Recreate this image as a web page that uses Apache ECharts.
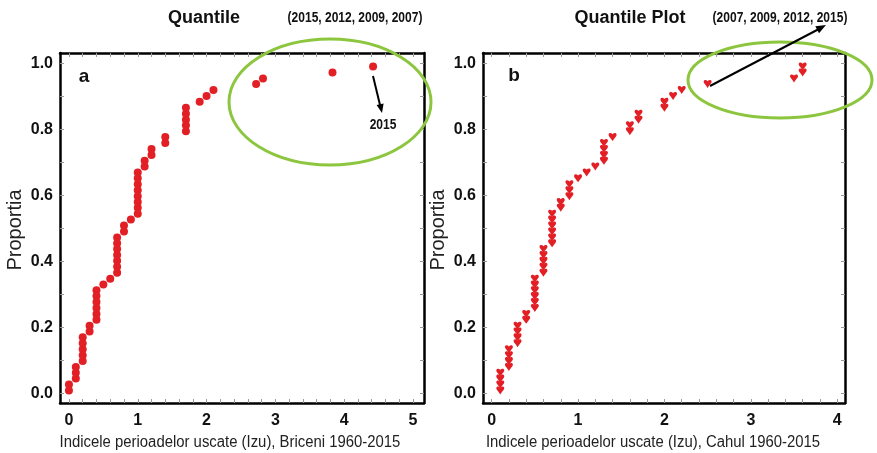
<!DOCTYPE html>
<html>
<head>
<meta charset="utf-8">
<script src="https://cdn.jsdelivr.net/npm/echarts@6/dist/echarts.min.js"></script>
<style>
html,body{margin:0;padding:0;background:#fff;}
#c{width:877px;height:453px;}
</style>
</head>
<body>
<div id="c"></div>
<script>
// ---------- DATA ----------
// Sorted index values (Izu), Briceni 1960-2015 (56 years)
const briceniValues = [
  0.0, 0.0,
  0.1, 0.1, 0.1,
  0.2, 0.2, 0.2, 0.2, 0.2,
  0.3, 0.3,
  0.4, 0.4, 0.4, 0.4, 0.4, 0.4,
  0.5, 0.6,
  0.7, 0.7, 0.7, 0.7, 0.7, 0.7, 0.7,
  0.8, 0.8, 0.9,
  1.0, 1.0, 1.0, 1.0, 1.0, 1.0, 1.0, 1.0,
  1.1, 1.1, 1.2, 1.2, 1.4, 1.4,
  1.7, 1.7, 1.7, 1.7, 1.7,
  1.9, 2.0, 2.1, 2.72, 2.82, 3.83, 4.42
];
// Sorted index values (Izu), Cahul 1960-2015 (56 years)
const cahulValues = [
  0.1, 0.1, 0.1, 0.1,
  0.2, 0.2, 0.2, 0.2,
  0.3, 0.3, 0.3, 0.3,
  0.4, 0.4,
  0.5, 0.5, 0.5, 0.5, 0.5, 0.5,
  0.6, 0.6, 0.6, 0.6, 0.6,
  0.7, 0.7, 0.7, 0.7, 0.7, 0.7,
  0.8, 0.8,
  0.9, 0.9, 0.9,
  1.0, 1.1, 1.2,
  1.3, 1.3, 1.3, 1.3,
  1.4, 1.6, 1.6, 1.7, 1.7,
  2.0, 2.0, 2.1, 2.2, 2.5, 3.5, 3.6, 3.6
];
// Proportion (quantile position) of each sorted value
const proportions = [
  0.009, 0.027, 0.045, 0.063, 0.080, 0.098, 0.116, 0.134, 0.152, 0.170,
  0.188, 0.205, 0.223, 0.241, 0.259, 0.277, 0.295, 0.313, 0.330, 0.348,
  0.366, 0.384, 0.402, 0.420, 0.438, 0.455, 0.473, 0.491, 0.509, 0.527,
  0.545, 0.563, 0.580, 0.598, 0.616, 0.634, 0.652, 0.670, 0.688, 0.705,
  0.723, 0.741, 0.759, 0.777, 0.795, 0.813, 0.830, 0.848, 0.866, 0.884,
  0.902, 0.920, 0.938, 0.955, 0.973, 0.991
];
const yTickLabels = [0, 0.2, 0.4, 0.6, 0.8, 1.0];
const xTickLabelsA = [0, 1, 2, 3, 4, 5];
const xTickLabelsB = [0, 1, 2, 3, 4];
const yMinorTicks = [0, 0.1, 0.2, 0.3, 0.4, 0.5, 0.6, 0.7, 0.8, 0.9, 1.0];
const xMinorTicksA = [0,0.2,0.4,0.6,0.8,1,1.2,1.4,1.6,1.8,2,2.2,2.4,2.6,2.8,3,3.2,3.4,3.6,3.8,4,4.2,4.4,4.6,4.8,5];
const xMinorTicksB = [0,0.2,0.4,0.6,0.8,1,1.2,1.4,1.6,1.8,2,2.2,2.4,2.6,2.8,3,3.2,3.4,3.6,3.8,4];

// ---------- CHART ----------
const FONT = 'Liberation Sans, Arial, sans-serif';
const RED = '#e31f26';
const GREEN = '#8cc63f';
const chart = echarts.init(document.getElementById('c'), null, {renderer: 'canvas'});

function xAx(grid, min, max, labels, ticks, pos) {
  return {
    type: 'value', gridIndex: grid, min: min, max: max, position: pos,
    axisLine: {show: true, onZero: false, lineStyle: {color: '#000', width: 2.5}},
    axisTick: {show: true, inside: true, length: 4, customValues: ticks, lineStyle: {color: '#999', width: 1}},
    axisLabel: pos === 'bottom' ? {show: true, customValues: labels, margin: 10, color: '#111',
      fontFamily: FONT, fontWeight: 'bold', fontSize: 16} : {show: false},
    splitLine: {show: false}
  };
}
function yAx(grid, pos) {
  return {
    type: 'value', gridIndex: grid, min: -0.029, max: 1.032, position: pos,
    axisLine: {show: true, onZero: false, lineStyle: {color: '#000', width: 2.5}},
    axisTick: {show: true, inside: true, length: 4, customValues: yMinorTicks, lineStyle: {color: '#999', width: 1}},
    axisLabel: pos === 'left' ? {show: true, customValues: yTickLabels, margin: 7, color: '#111',
      fontFamily: FONT, fontWeight: 'bold', fontSize: 16,
      formatter: v => v.toFixed(1)} : {show: false},
    splitLine: {show: false}
  };
}

const heart = 'path://M0,2.2 C0,-0.7 3.4,-0.7 5,1.4 C6.6,-0.7 10,-0.7 10,2.2 C10,4 7,6.5 5,10 C3,6.5 0,4 0,2.2 Z';

const option = {
  backgroundColor: '#fff',
  animation: false,
  grid: [
    {left: 60, top: 53, width: 364, height: 350},
    {left: 483, top: 53, width: 362, height: 350}
  ],
  xAxis: [
    xAx(0, -0.13, 5.16, xTickLabelsA, xMinorTicksA, 'bottom'),
    xAx(0, -0.13, 5.16, xTickLabelsA, xMinorTicksA, 'top'),
    xAx(1, -0.1, 4.09, xTickLabelsB, xMinorTicksB, 'bottom'),
    xAx(1, -0.1, 4.09, xTickLabelsB, xMinorTicksB, 'top')
  ],
  yAxis: [
    yAx(0, 'left'), yAx(0, 'right'),
    yAx(1, 'left'), yAx(1, 'right')
  ],
  series: [
    {
      type: 'scatter', xAxisIndex: 0, yAxisIndex: 0,
      symbol: 'circle', symbolSize: 8,
      itemStyle: {color: RED, opacity: 1},
      data: briceniValues.map((v, i) => [v, proportions[i]])
    },
    {
      type: 'scatter', xAxisIndex: 2, yAxisIndex: 2,
      symbol: heart, symbolSize: [8, 8],
      itemStyle: {color: RED, opacity: 1},
      data: cahulValues.map((v, i) => [v, proportions[i]])
    }
  ],
  graphic: [
    // titles
    {type: 'text', x: 204, y: 18, style: {text: 'Quantile', font: 'bold 18px ' + FONT, fill: '#111', align: 'center', verticalAlign: 'middle'}},
    {type: 'text', x: 355, y: 18, scaleX: 0.8, style: {text: '(2015, 2012, 2009, 2007)', font: 'bold 15px ' + FONT, fill: '#111', align: 'center', verticalAlign: 'middle'}},
    {type: 'text', x: 630, y: 18, style: {text: 'Quantile Plot', font: 'bold 18px ' + FONT, fill: '#111', align: 'center', verticalAlign: 'middle'}},
    {type: 'text', x: 780, y: 18, scaleX: 0.8, style: {text: '(2007, 2009, 2012, 2015)', font: 'bold 15px ' + FONT, fill: '#111', align: 'center', verticalAlign: 'middle'}},
    // panel letters
    {type: 'text', x: 84, y: 77, style: {text: 'a', font: 'bold 19px ' + FONT, fill: '#111', align: 'center', verticalAlign: 'middle'}},
    {type: 'text', x: 514, y: 76, style: {text: 'b', font: 'bold 19px ' + FONT, fill: '#111', align: 'center', verticalAlign: 'middle'}},
    // y axis titles
    {type: 'text', x: 15, y: 230, rotation: Math.PI / 2, style: {text: 'Proportia', font: '20px ' + FONT, fill: '#222', align: 'center', verticalAlign: 'middle'}},
    {type: 'text', x: 438, y: 230, rotation: Math.PI / 2, style: {text: 'Proportia', font: '20px ' + FONT, fill: '#222', align: 'center', verticalAlign: 'middle'}},
    // x axis titles
    {type: 'text', x: 230, y: 443, scaleX: 0.93, style: {text: 'Indicele perioadelor uscate (Izu), Briceni 1960-2015', font: '16px ' + FONT, fill: '#222', align: 'center', verticalAlign: 'middle'}},
    {type: 'text', x: 653, y: 443, scaleX: 0.93, style: {text: 'Indicele perioadelor uscate (Izu), Cahul 1960-2015', font: '16px ' + FONT, fill: '#222', align: 'center', verticalAlign: 'middle'}},
    // ellipses
    {type: 'ellipse', shape: {cx: 330, cy: 102, rx: 101, ry: 63}, style: {fill: 'none', stroke: GREEN, lineWidth: 3}, z: 10},
    {type: 'ellipse', shape: {cx: 780, cy: 80, rx: 92, ry: 38}, style: {fill: 'none', stroke: GREEN, lineWidth: 3}, z: 10},
    // arrow a
    {type: 'line', shape: {x1: 373, y1: 76, x2: 380, y2: 105}, style: {stroke: '#000', lineWidth: 2}, z: 11},
    {type: 'polygon', shape: {points: [[382, 113], [383.6, 103.4], [376.6, 105.0]]}, style: {fill: '#000'}, z: 11},
    {type: 'text', x: 383, y: 125, scaleX: 0.8, style: {text: '2015', font: 'bold 15px ' + FONT, fill: '#111', align: 'center', verticalAlign: 'middle'}, z: 11},
    // arrow b
    {type: 'line', shape: {x1: 710, y1: 86, x2: 818, y2: 29.5}, style: {stroke: '#000', lineWidth: 2}, z: 11},
    {type: 'polygon', shape: {points: [[826, 25], [819, 33.2], [815.3, 26.2]]}, style: {fill: '#000'}, z: 11}
  ]
};
chart.setOption(option);
</script>
</body>
</html>
